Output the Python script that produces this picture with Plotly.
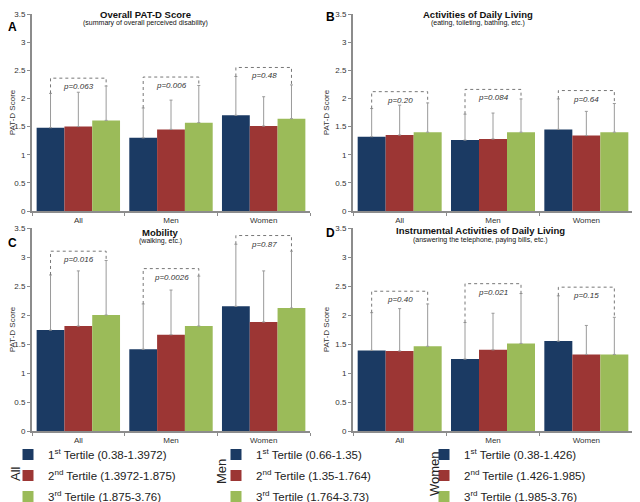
import plotly.graph_objects as go

# categories / legend text
groups = ["All", "Men", "Women"]
tertile_names = ["1<sup>st</sup> Tertile", "2<sup>nd</sup> Tertile", "3<sup>rd</sup> Tertile"]
range_all = ["(0.38-1.3972)", "(1.3972-1.875)", "(1.875-3.76)"]
range_men = ["(0.66-1.35)", "(1.35-1.764)", "(1.764-3.73)"]
range_women = ["(0.38-1.426)", "(1.426-1.985)", "(1.985-3.76)"]

# A - Overall PAT-D score (mean, upper error limit) per tertile over All/Men/Women
a_t1 = [1.48, 1.30, 1.70]
a_t2 = [1.50, 1.45, 1.51]
a_t3 = [1.61, 1.57, 1.64]
a_t1_hi = [2.09, 1.83, 2.39]
a_t2_hi = [2.11, 1.97, 2.03]
a_t3_hi = [2.22, 2.23, 2.24]
a_bracket = [2.36, 2.38, 2.55]
a_p = ["p=0.063", "p=0.006", "p=0.48"]

# B - Activities of daily living
b_t1 = [1.32, 1.26, 1.45]
b_t2 = [1.35, 1.28, 1.34]
b_t3 = [1.40, 1.40, 1.40]
b_t1_hi = [1.82, 1.72, 1.99]
b_t2_hi = [1.88, 1.74, 1.77]
b_t3_hi = [1.92, 1.99, 1.91]
b_bracket = [2.12, 2.16, 2.14]
b_p = ["p=0.20", "p=0.084", "p=0.64"]

# C - Mobility
c_t1 = [1.74, 1.41, 2.15]
c_t2 = [1.81, 1.66, 1.88]
c_t3 = [2.00, 1.81, 2.12]
c_t1_hi = [2.69, 2.19, 3.22]
c_t2_hi = [2.76, 2.43, 2.76]
c_t3_hi = [2.94, 2.67, 3.10]
c_bracket = [3.10, 2.80, 3.37]
c_p = ["p=0.016", "p=0.0026", "p=0.87"]

# D - Instrumental activities of daily living
d_t1 = [1.39, 1.24, 1.55]
d_t2 = [1.38, 1.40, 1.32]
d_t3 = [1.46, 1.51, 1.32]
d_t1_hi = [2.04, 1.87, 2.33]
d_t2_hi = [2.11, 2.03, 1.82]
d_t3_hi = [2.19, 2.37, 1.96]
d_bracket = [2.41, 2.54, 2.48]
d_p = ["p=0.40", "p=0.021", "p=0.15"]

colors = ["#1b3a63", "#9c3634", "#9bbb59"]
FONT = "Liberation Sans, Arial, sans-serif"
# page body has an 8px margin, so the figure is shrunk to fit the window
OFF = 8
W, H = 640 - OFF, 502 - OFF


def fx(px):
  return min(1, max(0, (px - OFF) / W))


def fy(py):
  return min(1, max(0, 1 - (py - OFF) / H))


def note(x, y, text, size, color="#111111", angle=0):
  return dict(x=fx(x), y=fy(y), xref="paper", yref="paper", xanchor="center", yanchor="middle",
              text=text, textangle=angle, showarrow=False, font=dict(size=size, color=color))


panels = [
  ("", [a_t1, a_t2, a_t3], [a_t1_hi, a_t2_hi, a_t3_hi], a_bracket, a_p),
  ("2", [b_t1, b_t2, b_t3], [b_t1_hi, b_t2_hi, b_t3_hi], b_bracket, b_p),
  ("3", [c_t1, c_t2, c_t3], [c_t1_hi, c_t2_hi, c_t3_hi], c_bracket, c_p),
  ("4", [d_t1, d_t2, d_t3], [d_t1_hi, d_t2_hi, d_t3_hi], d_bracket, d_p),
]

fig = go.Figure()
shapes = []
annotations = []

for ax, means, highs, brk, pv in panels:
  for k in range(3):
    err = [h - m for h, m in zip(highs[k], means[k])]
    fig.add_trace(go.Bar(
      x=groups, y=means[k], xaxis="x" + ax, yaxis="y" + ax,
      marker=dict(color=colors[k], line=dict(width=0)),
      error_y=dict(type="data", symmetric=False, array=err, arrayminus=[0, 0, 0],
                   color="#9a9a9a", thickness=1, width=1.5),
      showlegend=False, hoverinfo="skip"))
  # dotted brackets with p values
  for i in range(3):
    shapes.append(dict(
      type="path", xref="x" + ax, yref="y" + ax,
      path="M %f,%f L %f,%f L %f,%f L %f,%f" % (
        i - 0.3, highs[0][i], i - 0.3, brk[i], i + 0.3, brk[i], i + 0.3, highs[2][i]),
      line=dict(color="#777777", width=1, dash="dot")))
    annotations.append(dict(
      x=i, y=brk[i], xref="x" + ax, yref="y" + ax, xanchor="center", yanchor="top", yshift=-2,
      text="<i>" + pv[i] + "</i>", showarrow=False,
      font=dict(size=8, color="#333333")))

# legend entries (three separate legends: All / Men / Women)
for lg, rng in [("legend", range_all), ("legend2", range_men), ("legend3", range_women)]:
  for k in range(3):
    fig.add_trace(go.Scatter(
      x=[None], y=[None], mode="markers", name=tertile_names[k] + " " + rng[k],
      marker=dict(color=colors[k], symbol="square", size=11),
      legend=lg, legendgroup=lg + str(k), showlegend=True, hoverinfo="skip"))

axis_common = dict(showline=True, linecolor="#8c8c8c", linewidth=2, showgrid=False,
                   zeroline=False, ticks="outside", tickcolor="#8c8c8c", ticklen=3,
                   automargin=False, ticklabeloverflow="allow",
                   tickfont=dict(size=8, color="#333333", family=FONT))
yaxis_common = dict(axis_common, range=[0, 3.5], dtick=0.5,
                    title=dict(text="PAT-D Score", font=dict(size=8, color="#333333"), standoff=4))
xaxis_common = dict(axis_common, tickson="boundaries")

top = [fy(211), fy(14)]
bot = [fy(431), fy(228)]
left = [fx(32), fx(310)]
right = [fx(353), fx(633)]

titles = [
  (145, 14, "Overall PAT-D Score", 23, "(summary of overall perceived disability)"),
  (478, 14, "Activities of Daily Living", 23, "(eating, toileting, bathing, etc.)"),
  (160, 232, "Mobility", 241, "(walking, etc.)"),
  (480, 230, "Instrumental Activities of Daily Living", 240, "(answering the telephone, paying bills, etc.)"),
]
for x0, y0, t, y1, sub in titles:
  annotations.append(note(x0, y0, "<b>" + t + "</b>", 9.5))
  annotations.append(note(x0, y1, sub, 7))

# panel letters; A and C sit just below the "3.5" labels so they do not collide
for letter, x0, y0 in [("A", 12.5, 27), ("B", 330, 17), ("C", 12.5, 243), ("D", 330, 233)]:
  annotations.append(note(x0, y0, "<b>" + letter + "</b>", 12, "#000000"))

for lab, x0, y0 in [("All", 15, 474), ("Men", 221, 472), ("Women", 434, 474)]:
  annotations.append(note(x0, y0, lab, 13, "#222222", -90))

legend_common = dict(yanchor="top", xanchor="left", y=fy(440), bgcolor="rgba(0,0,0,0)",
                     font=dict(size=11.5, color="#222222", family=FONT), tracegroupgap=2,
                     traceorder="grouped", itemclick=False)

fig.update_layout(
  width=W, height=H, margin=dict(l=0, r=0, t=0, b=0, autoexpand=False),
  paper_bgcolor="white", plot_bgcolor="white",
  font=dict(family=FONT),
  barmode="group", bargap=0.1, bargroupgap=0,
  xaxis=dict(xaxis_common, domain=left, anchor="y"),
  yaxis=dict(yaxis_common, domain=top, anchor="x"),
  xaxis2=dict(xaxis_common, domain=right, anchor="y2"),
  yaxis2=dict(yaxis_common, domain=top, anchor="x2"),
  xaxis3=dict(xaxis_common, domain=left, anchor="y3"),
  yaxis3=dict(yaxis_common, domain=bot, anchor="x3"),
  xaxis4=dict(xaxis_common, domain=right, anchor="y4"),
  yaxis4=dict(yaxis_common, domain=bot, anchor="x4"),
  legend=dict(legend_common, x=fx(8)),
  legend2=dict(legend_common, x=fx(216)),
  legend3=dict(legend_common, x=fx(424)),
  shapes=shapes, annotations=annotations,
)

fig.write_html("out.html")
